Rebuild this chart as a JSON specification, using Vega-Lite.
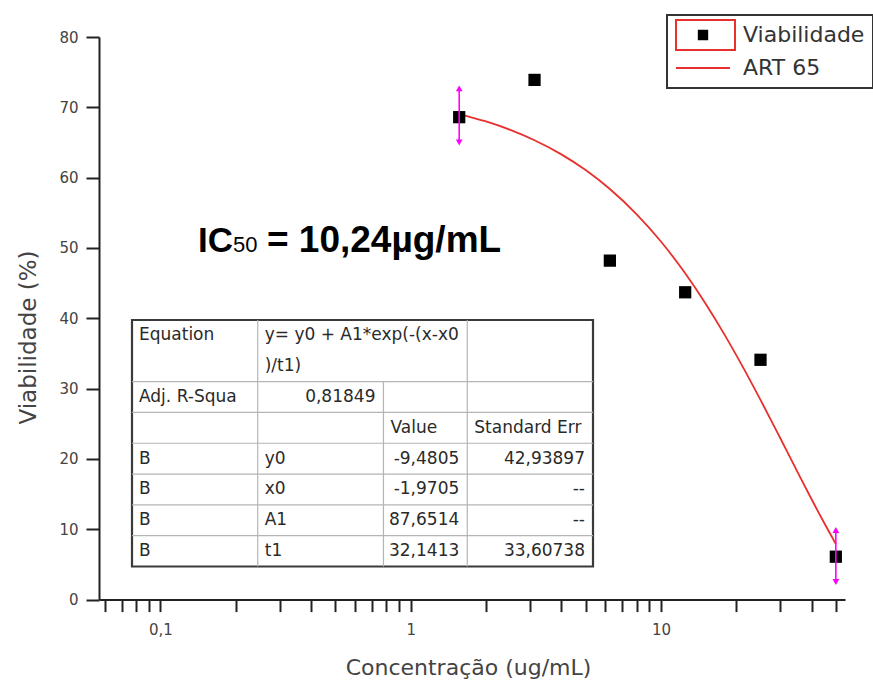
{
  "$schema": "https://vega.github.io/schema/vega-lite/v6.json",
  "width": 746,
  "height": 562.6,
  "autosize": {"type": "none"},
  "padding": {"left": 99, "top": 37, "right": 28, "bottom": 84.4},
  "background": "white",
  "config": {
    "view": {"stroke": null},
    "axis": {
      "grid": false,
      "domainColor": "#222",
      "domainWidth": 2,
      "tickColor": "#222",
      "tickWidth": 2,
      "labelFont": "DejaVu Sans",
      "labelFontSize": 15,
      "labelColor": "#444",
      "titleFont": "DejaVu Sans",
      "titleColor": "#444",
      "titleFontWeight": "normal"
    }
  },
  "datasets": {
    "viab": [
      {"conc": 1.5625, "viab": 68.6, "series": "Viabilidade"},
      {"conc": 3.125, "viab": 73.9, "series": "Viabilidade"},
      {"conc": 6.25, "viab": 48.2, "series": "Viabilidade"},
      {"conc": 12.5, "viab": 43.7, "series": "Viabilidade"},
      {"conc": 25, "viab": 34.1, "series": "Viabilidade"},
      {"conc": 50, "viab": 6.1, "series": "Viabilidade"}
    ],
    "fit": [
      {"conc": 1.5625, "viab": 69.05, "series": "ART 65"},
      {"conc": 2, "viab": 67.99, "series": "ART 65"},
      {"conc": 2.5, "viab": 66.79, "series": "ART 65"},
      {"conc": 3.125, "viab": 65.32, "series": "ART 65"},
      {"conc": 4, "viab": 63.31, "series": "ART 65"},
      {"conc": 5, "viab": 61.08, "series": "ART 65"},
      {"conc": 6.25, "viab": 58.39, "series": "ART 65"},
      {"conc": 8, "viab": 54.79, "series": "ART 65"},
      {"conc": 10, "viab": 50.92, "series": "ART 65"},
      {"conc": 12.5, "viab": 46.40, "series": "ART 65"},
      {"conc": 15, "viab": 42.22, "series": "ART 65"},
      {"conc": 18, "viab": 37.61, "series": "ART 65"},
      {"conc": 21, "viab": 33.41, "series": "ART 65"},
      {"conc": 25, "viab": 28.39, "series": "ART 65"},
      {"conc": 30, "viab": 22.94, "series": "ART 65"},
      {"conc": 35, "viab": 18.27, "series": "ART 65"},
      {"conc": 40, "viab": 14.27, "series": "ART 65"},
      {"conc": 45, "viab": 10.85, "series": "ART 65"},
      {"conc": 50, "viab": 7.92, "series": "ART 65"}
    ],
    "err": [
      {"conc": 1.5625, "lo": 65.0, "hi": 72.7},
      {"conc": 50, "lo": 2.5, "hi": 9.9}
    ],
    "annot": [
      {"conc": 0.1412, "viab": 49.4}
    ],
    "tframe": [
      {"c": 0, "c2": 11, "r": 0, "r2": 8}
    ],
    "tlines": [
      {"c": 0, "c2": 11, "r": 2, "r2": 2},
      {"c": 0, "c2": 11, "r": 3, "r2": 3},
      {"c": 0, "c2": 11, "r": 4, "r2": 4},
      {"c": 0, "c2": 11, "r": 5, "r2": 5},
      {"c": 0, "c2": 11, "r": 6, "r2": 6},
      {"c": 0, "c2": 11, "r": 7, "r2": 7},
      {"c": 3, "c2": 3, "r": 0, "r2": 8},
      {"c": 6, "c2": 6, "r": 2, "r2": 8},
      {"c": 8, "c2": 8, "r": 0, "r2": 8}
    ],
    "tleft": [
      {"c": 0, "r": 0, "text": "Equation"},
      {"c": 3, "r": 0, "text": "y= y0 + A1*exp(-(x-x0"},
      {"c": 3, "r": 1, "text": ")/t1)"},
      {"c": 0, "r": 2, "text": "Adj. R-Squa"},
      {"c": 6, "r": 3, "text": "Value"},
      {"c": 8, "r": 3, "text": "Standard Err"},
      {"c": 0, "r": 4, "text": "B"},
      {"c": 3, "r": 4, "text": "y0"},
      {"c": 0, "r": 5, "text": "B"},
      {"c": 3, "r": 5, "text": "x0"},
      {"c": 0, "r": 6, "text": "B"},
      {"c": 3, "r": 6, "text": "A1"},
      {"c": 0, "r": 7, "text": "B"},
      {"c": 3, "r": 7, "text": "t1"}
    ],
    "tright": [
      {"c": 6, "r": 2, "text": "0,81849"},
      {"c": 8, "r": 4, "text": "-9,4805"},
      {"c": 11, "r": 4, "text": "42,93897"},
      {"c": 8, "r": 5, "text": "-1,9705"},
      {"c": 11, "r": 5, "text": "--"},
      {"c": 8, "r": 6, "text": "87,6514"},
      {"c": 11, "r": 6, "text": "--"},
      {"c": 8, "r": 7, "text": "32,1413"},
      {"c": 11, "r": 7, "text": "33,60738"}
    ]
  },
  "layer": [
    {
      "encoding": {
        "x": {
          "field": "conc",
          "type": "quantitative",
          "title": "Concentração (ug/mL)",
          "scale": {"type": "log", "domain": [0.0568, 54.4], "nice": false},
          "axis": {
            "values": [0.06, 0.07, 0.08, 0.09, 0.1, 0.2, 0.3, 0.4, 0.5, 0.6, 0.7, 0.8, 0.9, 1, 2, 3, 4, 5, 6, 7, 8, 9, 10, 20, 30, 40, 50],
            "labelExpr": "datum.value === 0.1 ? '0,1' : (datum.value === 1 ? '1' : (datum.value === 10 ? '10' : ''))",
            "labelOverlap": false,
            "labelFlush": false,
            "tickSize": 12,
            "labelPadding": 11,
            "titleFontSize": 22,
            "titleX": 369,
            "titleY": 75,
            "titleBaseline": "alphabetic",
            "titleAlign": "center",
            "encode": {
              "ticks": {"update": {"y2": {"signal": "(datum.value === 0.1 || datum.value === 1 || datum.value === 10) ? 12 : 6"}}}
            }
          }
        }
      },
      "layer": [
        {
          "data": {"name": "fit"},
          "mark": {"type": "line", "strokeWidth": 1.8, "interpolate": "monotone"},
          "encoding": {
            "y": {
              "field": "viab",
              "type": "quantitative",
              "title": "Viabilidade (%)",
              "scale": {"domain": [0, 80], "nice": false},
              "axis": {
                "values": [0, 5, 10, 15, 20, 25, 30, 35, 40, 45, 50, 55, 60, 65, 70, 75, 80],
                "labelExpr": "datum.value % 10 === 0 ? datum.label : ''",
                "labelOverlap": false,
                "tickSize": 13,
                "labelPadding": 8,
                "titleFontSize": 23,
                "titleAngle": -90,
                "titleX": -64,
                "titleY": 300,
                "titleBaseline": "alphabetic",
                "titleAlign": "center",
                "encode": {
                  "ticks": {"update": {"x2": {"signal": "datum.value % 10 === 0 ? -13 : -7"}}}
                }
              }
            },
            "color": {
              "field": "series",
              "type": "nominal",
              "scale": {"domain": ["Viabilidade", "ART 65"], "range": ["#000000", "#e8302e"]},
              "legend": {
                "title": null,
                "orient": "none",
                "legendX": 568,
                "legendY": -22,
                "strokeColor": "#333",
                "fillColor": "white",
                "padding": 8,
                "labelFont": "DejaVu Sans",
                "labelFontSize": 22,
                "labelColor": "#333",
                "symbolSize": 2916,
                "symbolStrokeWidth": 2,
                "clipHeight": 24,
                "rowPadding": 9,
                "labelOffset": 12,
                "encode": {
                  "legend": {"update": {"strokeWidth": {"value": 2}}},
                  "symbols": {
                    "update": {
                      "shape": {"signal": "datum.value === 'Viabilidade' ? 'square' : 'stroke'"},
                      "size": {"signal": "datum.value === 'Viabilidade' ? 70 : 2916"},
                      "fill": {"signal": "datum.value === 'Viabilidade' ? '#000000' : 'transparent'"},
                      "stroke": {"signal": "datum.value === 'Viabilidade' ? '#000000' : '#e8302e'"},
                      "strokeWidth": {"value": 2},
                      "opacity": {"value": 1}
                    }
                  }
                }
              }
            }
          }
        },
        {
          "data": {"name": "viab"},
          "mark": {"type": "point", "shape": "square", "filled": true, "size": 150, "opacity": 1},
          "encoding": {
            "y": {"field": "viab", "type": "quantitative", "title": "Viabilidade (%)"},
            "color": {"field": "series", "type": "nominal"}
          }
        },
        {
          "data": {"name": "viab"},
          "mark": {"type": "point", "opacity": 0, "color": "#e8302e"},
          "encoding": {
            "y": {"field": "viab", "type": "quantitative", "title": "Viabilidade (%)"},
            "shape": {
              "datum": "Viabilidade",
              "scale": {"domain": ["Viabilidade"], "range": ["M-1,-0.51H1V0.51H-1Z"]},
              "legend": {
                "title": null,
                "orient": "none",
                "legendX": 568,
                "legendY": -26,
                "padding": 8,
                "symbolSize": 3481,
                "symbolStrokeColor": "#e8302e",
                "symbolFillColor": "transparent",
                "symbolStrokeWidth": 2,
                "clipHeight": 32,
                "labelExpr": "''",
                "labelFontSize": 22,
                "encode": {
                  "symbols": {
                    "update": {
                      "fill": {"value": "transparent"},
                      "stroke": {"value": "#e8302e"},
                      "strokeWidth": {"value": 2},
                      "opacity": {"value": 1},
                      "size": {"value": 3481}
                    }
                  }
                }
              }
            }
          }
        },
        {
          "data": {"name": "err"},
          "mark": {"type": "rule", "color": "#ff00ff", "strokeWidth": 1.6},
          "encoding": {
            "y": {"field": "lo", "type": "quantitative", "title": "Viabilidade (%)"},
            "y2": {"field": "hi"}
          }
        },
        {
          "data": {"name": "err"},
          "mark": {"type": "point", "shape": "triangle-up", "filled": true, "size": 45, "color": "#ff00ff", "opacity": 1},
          "encoding": {
            "y": {"field": "hi", "type": "quantitative", "title": "Viabilidade (%)"}
          }
        },
        {
          "data": {"name": "err"},
          "mark": {"type": "point", "shape": "triangle-down", "filled": true, "size": 45, "color": "#ff00ff", "opacity": 1},
          "encoding": {
            "y": {"field": "lo", "type": "quantitative", "title": "Viabilidade (%)"}
          }
        },
        {
          "data": {"name": "annot"},
          "mark": {"type": "text", "text": "IC", "align": "left", "baseline": "alphabetic", "font": "Liberation Sans", "fontWeight": "bold", "fontSize": 35, "color": "#000000"},
          "encoding": {
            "y": {"field": "viab", "type": "quantitative", "title": "Viabilidade (%)"}
          }
        },
        {
          "data": {"name": "annot"},
          "mark": {"type": "text", "text": "50", "align": "left", "baseline": "alphabetic", "dx": 35, "font": "Liberation Sans", "fontSize": 22, "color": "#000000"},
          "encoding": {
            "y": {"field": "viab", "type": "quantitative", "title": "Viabilidade (%)"}
          }
        },
        {
          "data": {"name": "annot"},
          "mark": {"type": "text", "text": "= 10,24µg/mL", "align": "left", "baseline": "alphabetic", "dx": 69, "font": "Liberation Sans", "fontWeight": "bold", "fontSize": 37, "color": "#000000"},
          "encoding": {
            "y": {"field": "viab", "type": "quantitative", "title": "Viabilidade (%)"}
          }
        }
      ]
    },
    {
      "encoding": {
        "x": {"field": "c", "type": "quantitative", "scale": {"domain": [0, 11], "range": [33, 494], "nice": false, "zero": false}, "axis": null},
        "y": {"field": "r", "type": "quantitative", "scale": {"domain": [0, 8], "range": [283, 529.5], "nice": false, "zero": false}, "axis": null}
      },
      "layer": [
        {
          "data": {"name": "tframe"},
          "mark": {"type": "rect", "fill": "white", "stroke": "#3a3a3a", "strokeWidth": 2.2},
          "encoding": {
            "x2": {"field": "c2"},
            "y2": {"field": "r2"}
          }
        },
        {
          "data": {"name": "tlines"},
          "mark": {"type": "rule", "color": "#b5b5b5", "strokeWidth": 1.2},
          "encoding": {
            "x2": {"field": "c2"},
            "y2": {"field": "r2"}
          }
        },
        {
          "data": {"name": "tleft"},
          "mark": {"type": "text", "align": "left", "baseline": "middle", "dx": 7, "dy": 15.4, "font": "DejaVu Sans", "fontSize": 17, "color": "#2a2a2a"},
          "encoding": {
            "text": {"field": "text"}
          }
        },
        {
          "data": {"name": "tright"},
          "mark": {"type": "text", "align": "right", "baseline": "middle", "dx": -8, "dy": 15.4, "font": "DejaVu Sans", "fontSize": 17, "color": "#2a2a2a"},
          "encoding": {
            "text": {"field": "text"}
          }
        }
      ]
    }
  ],
  "resolve": {"scale": {"x": "independent", "y": "independent"}}
}
